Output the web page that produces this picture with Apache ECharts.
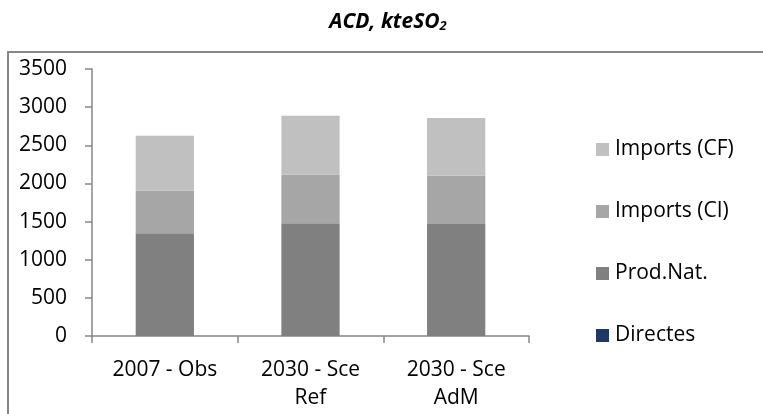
<!DOCTYPE html>
<html>
<head>
<meta charset="utf-8">
<script src="https://cdn.jsdelivr.net/npm/echarts@6/dist/echarts.min.js"></script>
<style>
  html, body { margin: 0; padding: 0; background: #fff; }
  #chart { width: 763px; height: 414px; }
</style>
</head>
<body>
<div id="chart"></div>
<script>
// Acid deposition emissions (kt SO2 equivalent), stacked by origin
const categories = ['2007 - Obs', '2030 - Sce\nRef', '2030 - Sce\nAdM'];
const directes   = [0, 0, 0];
const prodNat    = [1346, 1477, 1468];
const importsCI  = [559, 638, 633];
const importsCF  = [721, 773, 757];
const yTicks     = [0, 500, 1000, 1500, 2000, 2500, 3000, 3500];

const FONT = '"Open Sans", "Liberation Sans", sans-serif';
const axisGrey = '#868686';

const chart = echarts.init(document.getElementById('chart'), null, { renderer: 'canvas' });

function barSeries(name, data, color) {
  return {
    name: name,
    type: 'bar',
    stack: 'total',
    data: data,
    barWidth: '40%',
    itemStyle: { color: color },
    emphasis: { disabled: true }
  };
}

chart.setOption({
  animation: false,
  title: {
    text: 'ACD, kteSO{sub|2}',
    left: 383,
    textAlign: 'center',
    top: 6,
    textStyle: {
      fontFamily: FONT,
      fontSize: 21,
      fontWeight: 'bold',
      fontStyle: 'italic',
      color: '#000',
      rich: {
        sub: {
          fontFamily: FONT,
          fontSize: 13,
          fontWeight: 'bold',
          fontStyle: 'italic',
          color: '#000',
          verticalAlign: 'bottom',
          padding: [9, 0, 0, 0]
        }
      }
    }
  },
  graphic: [{
    type: 'rect',
    silent: true,
    shape: { x: 8, y: 52, width: 770, height: 400 },
    style: { fill: 'none', stroke: axisGrey, lineWidth: 2 }
  }],
  legend: {
    orient: 'vertical',
    left: 591,
    top: 134,
    itemWidth: 13,
    itemHeight: 13,
    itemGap: 41,
    icon: 'rect',
    data: ['Imports (CF)', 'Imports (CI)', 'Prod.Nat.', 'Directes'],
    textStyle: { fontFamily: FONT, fontSize: 21, color: '#000', padding: [0, 0, 0, 1] },
    selectedMode: false
  },
  grid: { left: 92, top: 69, width: 437, bottom: 78, containLabel: false },
  xAxis: {
    type: 'category',
    data: categories,
    axisLine: { lineStyle: { color: axisGrey, width: 1.5 } },
    axisTick: { show: true, alignWithLabel: false, length: 7, lineStyle: { color: axisGrey, width: 1.5 } },
    axisLabel: {
      fontFamily: FONT, fontSize: 21, color: '#000',
      margin: 20, lineHeight: 28
    }
  },
  yAxis: {
    type: 'value',
    min: yTicks[0],
    max: yTicks[yTicks.length - 1],
    interval: yTicks[1] - yTicks[0],
    splitLine: { show: false },
    axisLine: { show: true, lineStyle: { color: axisGrey, width: 1.5 } },
    axisTick: { show: true, length: 7, lineStyle: { color: axisGrey, width: 1.5 } },
    axisLabel: {
      fontFamily: FONT, fontSize: 21, color: '#000', margin: 25,
      formatter: function (v) { return String(v); }
    }
  },
  series: [
    barSeries('Directes', directes, '#1F3864'),
    barSeries('Prod.Nat.', prodNat, '#808080'),
    barSeries('Imports (CI)', importsCI, '#A6A6A6'),
    barSeries('Imports (CF)', importsCF, '#C0C0C0')
  ]
});
</script>
</body>
</html>
